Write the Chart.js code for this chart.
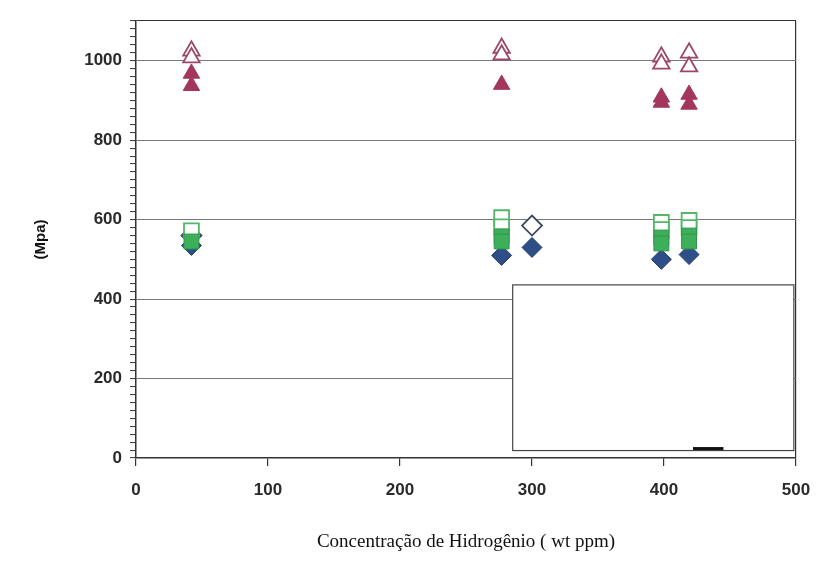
<!DOCTYPE html>
<html>
<head>
<meta charset="utf-8">
<script src="https://cdn.jsdelivr.net/npm/chart.js@4.4.0/dist/chart.umd.min.js"></script>
<style>
  html, body { margin: 0; padding: 0; background: #fff; }
  #wrap { width: 826px; height: 561px; }
</style>
</head>
<body>
<div id="wrap"><canvas id="chart"></canvas></div>
<script>
// concentração de hidrogênio (wt ppm) x tensão (MPa)
const openTriX = [42, 42, 277, 277, 398, 398, 419, 419];
const openTriY = [1025, 1008, 1032, 1015, 1010, 992, 1020, 985];
const fillTriX = [42, 42, 277, 398, 398, 419, 419];
const fillTriY = [968, 937, 940, 908, 895, 915, 890];
const openSqX = [42, 277, 277, 398, 398, 419, 419];
const openSqY = [572, 605, 582, 593, 575, 598, 580];
const fillSqX = [42, 277, 277, 398, 398, 419, 419];
const fillSqY = [545, 558, 545, 555, 540, 560, 545];
const openDiaX = [42, 300];
const openDiaY = [560, 585];
const fillDiaX = [42, 277, 300, 398, 419];
const fillDiaY = [535, 510, 530, 500, 512];

const xTicks = [0, 100, 200, 300, 400, 500];
const yLabels = [0, 200, 400, 600, 800, 1000];

// caixa da legenda (vazia), em unidades dos eixos
const legendBox = { x0: 285, x1: 498, y0: 20, y1: 437 };

function pts(xs, ys) {
    return xs.map((x, i) => ({ x: x, y: ys[i] }));
}

const axisColor = '#333';

const legendBoxPlugin = {
    id: 'legendBox',
    afterDatasetsDraw(chart) {
        const { ctx, scales: { x, y } } = chart;
        const l = x.getPixelForValue(legendBox.x0);
        const r = x.getPixelForValue(legendBox.x1);
        const t = y.getPixelForValue(legendBox.y1);
        const b = y.getPixelForValue(legendBox.y0);
        ctx.save();
        ctx.fillStyle = '#fff';
        ctx.fillRect(l, t, r - l, b - t);
        ctx.strokeStyle = '#444';
        ctx.lineWidth = 1.2;
        ctx.strokeRect(l + 0.5, t + 0.5, r - l, b - t);
        // traço escuro no rodapé da caixa
        ctx.fillStyle = '#111';
        ctx.fillRect(x.getPixelForValue(422), b - 3, x.getPixelForValue(445) - x.getPixelForValue(422), 3);
        ctx.restore();
    }
};

new Chart(document.getElementById('chart'), {
    type: 'scatter',
    data: {
        datasets: [
            {
                label: 'tri cheio',
                data: pts(fillTriX, fillTriY),
                pointStyle: 'triangle',
                pointRadius: 9.5,
                backgroundColor: '#a3365d',
                borderColor: '#a3365d',
                borderWidth: 1
            },
            {
                label: 'tri aberto',
                data: pts(openTriX, openTriY),
                pointStyle: 'triangle',
                pointRadius: 9.5,
                backgroundColor: '#fff',
                borderColor: '#9c4866',
                borderWidth: 1.8
            },
            {
                label: 'quad cheio',
                data: pts(fillSqX, fillSqY),
                pointStyle: 'rect',
                pointRadius: 10.5,
                backgroundColor: '#3dae5a',
                borderColor: '#2f9a4a',
                borderWidth: 1
            },
            {
                label: 'losango cheio',
                data: pts(fillDiaX, fillDiaY),
                pointStyle: 'rectRot',
                pointRadius: 10,
                backgroundColor: '#2d4e86',
                borderColor: '#263f6c',
                borderWidth: 1
            },
            {
                label: 'quad aberto',
                data: pts(openSqX, openSqY),
                pointStyle: 'rect',
                pointRadius: 10.5,
                backgroundColor: '#fff',
                borderColor: '#52b868',
                borderWidth: 1.8
            },
            {
                label: 'losango aberto',
                data: pts(openDiaX, openDiaY),
                pointStyle: 'rectRot',
                pointRadius: 10,
                backgroundColor: '#fff',
                borderColor: '#3b4660',
                borderWidth: 1.8
            }
        ]
    },
    options: {
        responsive: true,
        maintainAspectRatio: false,
        animation: false,
        layout: { padding: { top: 21, right: 30, bottom: 0, left: 0 } },
        plugins: {
            legend: { display: false },
            tooltip: { enabled: false }
        },
        scales: {
            x: {
                type: 'linear',
                min: 0,
                max: 500,
                afterFit: (scale) => { scale.height = 103; },
                afterBuildTicks: (scale) => { scale.ticks = xTicks.map(v => ({ value: v })); },
                border: { color: axisColor, width: 1.5 },
                grid: {
                    color: (ctx) => ctx.tick && ctx.tick.value === 500 ? axisColor : 'rgba(0,0,0,0)',
                    tickColor: axisColor,
                    tickLength: 8,
                    lineWidth: 1.2
                },
                ticks: {
                    color: '#2a2a2a',
                    padding: 14,
                    font: { family: 'Liberation Sans', size: 17, weight: 'bold' }
                },
                title: {
                    display: true,
                    text: 'Concentração de Hidrogênio ( wt ppm)',
                    color: '#111',
                    font: { family: 'Liberation Serif', size: 19 },
                    padding: { top: 0, bottom: 8 }
                }
            },
            y: {
                min: 0,
                max: 1100,
                afterFit: (scale) => { scale.width = 136; },
                border: { color: axisColor, width: 1.5 },
                grid: {
                    color: (ctx) => {
                        const v = ctx.tick ? ctx.tick.value : -1;
                        if (v === 1100) return axisColor;
                        return v % 200 === 0 ? '#777' : 'rgba(0,0,0,0)';
                    },
                    tickColor: '#444',
                    tickLength: 6,
                    lineWidth: 1.1
                },
                ticks: {
                    stepSize: 20,
                    autoSkip: false,
                    color: '#2a2a2a',
                    padding: 8,
                    font: { family: 'Liberation Sans', size: 17, weight: 'bold' },
                    callback: (v) => yLabels.includes(v) ? String(v) : ''
                },
                title: {
                    display: true,
                    text: '(Mpa)',
                    color: '#111',
                    font: { family: 'Liberation Sans', size: 15, weight: 'bold' },
                    padding: { top: 32, bottom: 0 }
                }
            }
        }
    },
    plugins: [legendBoxPlugin]
});
</script>
</body>
</html>
